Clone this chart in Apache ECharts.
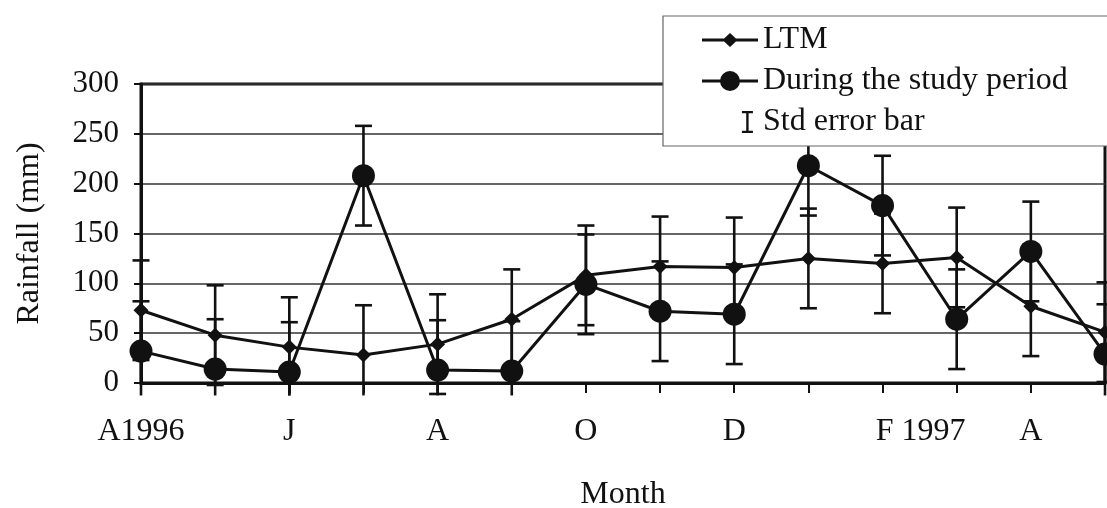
<!DOCTYPE html>
<html><head><meta charset="utf-8">
<script src="https://cdn.jsdelivr.net/npm/echarts@6/dist/echarts.min.js"></script>
<style>html,body{margin:0;padding:0;background:#fff}#c{width:1107px;height:508px}</style>
</head><body><div id="c"></div>
<script>
// Category labels (months, April 1996 - May 1997)
const months = ['A1996','M','J','J','A','S','O','N','D','J','F 1997','M','A','M'];
// Long-term mean rainfall (mm)
const ltm = [73, 48, 36, 28, 39, 64, 108, 117, 116, 125, 120, 126, 77, 51];
// Rainfall during the study period (mm)
const study = [32, 14, 11, 208, 13, 12, 99, 72, 69, 218, 178, 64, 132, 29];
// Standard error for each point
const ltmErr = [50, 50, 50, 50, 50, 50, 50, 50, 50, 50, 50, 50, 50, 50];
const studyErr = [50, 50, 50, 50, 50, 50, 50, 50, 50, 50, 50, 50, 50, 50];
// Y axis
const yMin = 0, yMax = 300, yStep = 50;

const FONT = 'Liberation Serif';
const INK = '#111';

const errData = [];
months.forEach((m, i) => {
  errData.push([i, ltm[i] - ltmErr[i], ltm[i] + ltmErr[i]]);
  errData.push([i, study[i] - studyErr[i], study[i] + studyErr[i]]);
});

function renderErr(params, api) {
  const i = api.value(0), lo = api.value(1), hi = api.value(2);
  const floor = -12.5;
  const top = api.coord([i, hi]);
  const bot = api.coord([i, Math.max(lo, floor)]);
  const hw = 8.5;
  const st = { stroke: INK, lineWidth: 2.6 };
  const children = [
    { type: 'line', shape: { x1: top[0], y1: top[1], x2: bot[0], y2: bot[1] }, style: st },
    { type: 'line', shape: { x1: top[0] - hw, y1: top[1], x2: top[0] + hw, y2: top[1] }, style: st }
  ];
  if (lo >= floor) {
    children.push({ type: 'line', shape: { x1: bot[0] - hw, y1: bot[1], x2: bot[0] + hw, y2: bot[1] }, style: st });
  }
  return { type: 'group', children };
}

const iconLTM = 'path://M0,5.5H56V8.5H0Z M20.5,7L28,0L35.5,7L28,14Z';
const iconStudy = 'path://M0,8.5H56V11.5H0Z M18,10A10,10 0 1,1 38,10A10,10 0 1,1 18,10Z';
const iconErr = 'path://M0,12L0.01,12L0.01,12.01Z M38,0H50V2.5H45.3V21.5H50V24H38V21.5H42.7V2.5H38Z';

const chart = echarts.init(document.getElementById('c'), null, { renderer: 'canvas' });
chart.setOption({
  animation: false,
  backgroundColor: '#fff',
  textStyle: { fontFamily: FONT, color: INK },
  grid: { left: 141, right: 2, top: 84, bottom: 125, outerBoundsMode: 'none', containLabel: false,
          show: true, borderColor: INK, borderWidth: 3, backgroundColor: 'transparent' },
  legend: {
    orient: 'vertical', left: 663, top: 16,
    padding: [8, 80, 8, 39],
    backgroundColor: '#fff', borderColor: '#666', borderWidth: 1.2,
    itemWidth: 56, itemHeight: 22, itemGap: 9,
    textStyle: { fontFamily: FONT, fontSize: 32, color: INK, lineHeight: 32 },
    itemStyle: { color: INK },
    z: 10,
    data: [
      { name: 'LTM', icon: iconLTM },
      { name: 'During the study period', icon: iconStudy },
      { name: 'Std error bar', icon: iconErr }
    ]
  },
  xAxis: {
    type: 'category', data: months, boundaryGap: false,
    axisLine: { lineStyle: { color: INK, width: 3 } },
    axisTick: { show: true, interval: 0, length: 10, lineStyle: { color: INK, width: 2 } },
    axisLabel: {
      interval: 1, fontFamily: FONT, fontSize: 32, color: INK, margin: 33,
      formatter: v => v === 'F 1997' ? '{f|' + v + '}' : v,
      rich: { f: { fontFamily: FONT, fontSize: 32, color: INK, padding: [0, 0, 0, 76] } }
    },
    name: 'Month', nameLocation: 'middle', nameGap: 96,
    nameTextStyle: { fontFamily: FONT, fontSize: 32, color: INK },
    splitLine: { show: false }
  },
  yAxis: {
    type: 'value', min: yMin, max: yMax, interval: yStep,
    axisLine: { show: true, lineStyle: { color: INK, width: 3 } },
    axisTick: { show: true, length: 7, lineStyle: { color: INK, width: 2 } },
    axisLabel: { fontFamily: FONT, fontSize: 31, color: INK, margin: 22 },
    splitLine: { show: true, lineStyle: { color: '#333', width: 1.5 } },
    name: 'Rainfall (mm)', nameLocation: 'middle', nameGap: 95,
    nameTextStyle: { fontFamily: FONT, fontSize: 32, color: INK }
  },
  series: [
    {
      name: 'Std error bar', type: 'custom', data: errData, renderItem: renderErr,
      encode: { x: 0, y: [1, 2] }, clip: false, z: 2,
      itemStyle: { color: INK }
    },
    {
      name: 'LTM', type: 'line', data: ltm, symbol: 'diamond', symbolSize: 15,
      showAllSymbol: true, z: 3,
      lineStyle: { color: INK, width: 3 }, itemStyle: { color: INK }
    },
    {
      name: 'During the study period', type: 'line', data: study, symbol: 'circle', symbolSize: 23,
      showAllSymbol: true, z: 3,
      lineStyle: { color: INK, width: 3 }, itemStyle: { color: INK }
    }
  ]
});
</script>
</body></html>
